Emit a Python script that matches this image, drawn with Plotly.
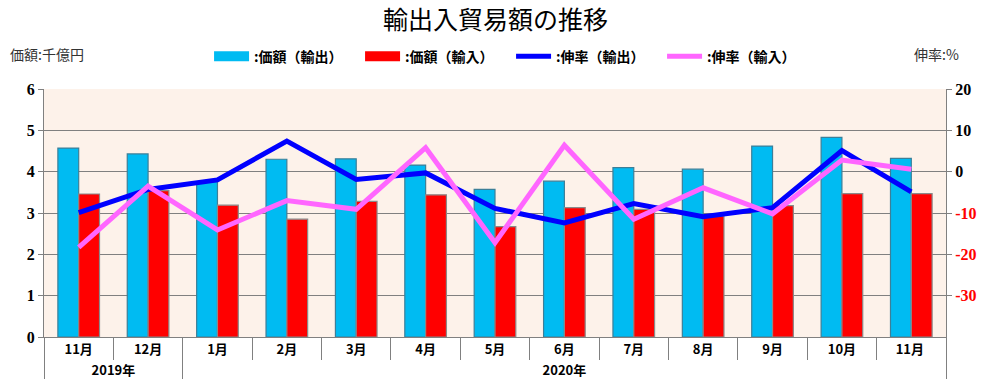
import plotly.graph_objects as go

years = ["2019年", "2019年"] + ["2020年"] * 11
months = ["11月", "12月", "1月", "2月", "3月", "4月", "5月", "6月", "7月", "8月", "9月", "10月", "11月 "]
export_value = [4.57, 4.43, 3.76, 4.30, 4.31, 4.16, 3.57, 3.77, 4.10, 4.06, 4.62, 4.83, 4.32]
import_value = [3.46, 3.54, 3.19, 2.85, 3.28, 3.44, 2.67, 3.13, 3.09, 2.93, 3.18, 3.47, 3.47]
export_growth = [-9.9, -4.3, -2.0, 7.4, -1.9, -0.3, -8.9, -12.4, -7.7, -10.9, -8.7, 5.1, -4.9]
import_growth = [-18.3, -3.5, -14.1, -7.0, -9.1, 5.8, -17.2, 6.4, -11.5, -3.9, -10.2, 2.8, 0.6]
left_ticks = [0, 1, 2, 3, 4, 5, 6]
right_ticks = [-30, -20, -10, 0, 10, 20]

cjk = "Noto Sans CJK JP"
x = [years, months]
EXP_C, IMP_C = "#00BBF2", "#FF0000"

fig = go.Figure()
fig.add_trace(go.Bar(x=x, y=export_value, name=":価額（輸出）", legendgroup="e", showlegend=False,
                     marker=dict(color=EXP_C, line=dict(color="#3C7F98", width=1.2))))
fig.add_trace(go.Bar(x=x, y=import_value, name=":価額（輸入）", legendgroup="i", showlegend=False,
                     marker=dict(color=IMP_C, line=dict(color="#8A8A8A", width=1.2))))
# legend keys drawn as wide blocks like the reference
fig.add_trace(go.Scatter(x=[None], y=[None], name=":価額（輸出）", legendgroup="e", mode="lines",
                         line=dict(color=EXP_C, width=10)))
fig.add_trace(go.Scatter(x=[None], y=[None], name=":価額（輸入）", legendgroup="i", mode="lines",
                         line=dict(color=IMP_C, width=10)))
fig.add_trace(go.Scatter(x=x, y=export_growth, name=":伸率（輸出）", mode="lines",
                         line=dict(color="#0000FF", width=5), yaxis="y2"))
fig.add_trace(go.Scatter(x=x, y=import_growth, name=":伸率（輸入）", mode="lines",
                         line=dict(color="#FF66FF", width=5), yaxis="y2"))

def rt(v):
    return f"<span style='color:#FF0000'>{v}</span>" if v < 0 else str(v)

fig.update_layout(
    width=997, height=390,
    margin=dict(l=44, r=51, t=89, b=53),
    paper_bgcolor="white",
    plot_bgcolor="#FDF2EA",
    barmode="group",
    bargap=0.4,
    bargroupgap=0.0,
    font=dict(family=cjk, color="black"),
    title=dict(text="輸出入貿易額の推移", x=0.497, xanchor="center", y=0.948, yanchor="middle",
               font=dict(family=cjk, size=25, color="black")),
    legend=dict(orientation="h", x=0.183, xanchor="left", y=1.13, yanchor="middle",
                font=dict(family=cjk, size=14, color="black", weight="bold"),
                entrywidth=101, entrywidthmode="pixels",
                itemwidth=35, tracegroupgap=0, bgcolor="rgba(0,0,0,0)"),
    xaxis=dict(type="multicategory", showline=True, linecolor="#808080", linewidth=1,
               ticks="outside", ticklen=22, tickcolor="#808080",
               showdividers=True, dividercolor="#808080", dividerwidth=1,
               tickfont=dict(family=cjk, size=13, color="black", weight="bold"),
               showgrid=False, automargin=False, mirror=False),
    yaxis=dict(range=[0, 6], tickvals=left_ticks, showgrid=True, gridcolor="#808080", gridwidth=1,
               showline=True, linecolor="#808080", linewidth=1, ticks="outside", ticklen=5,
               tickcolor="#808080", zeroline=False,
               tickfont=dict(family="Liberation Serif", size=16, color="black", weight="bold"),
               automargin=False),
    yaxis2=dict(range=[-40, 20], overlaying="y", side="right", tickvals=right_ticks,
                ticktext=[rt(v) for v in right_ticks], showgrid=False, zeroline=False,
                showline=True, linecolor="#808080", linewidth=1, ticks="outside", ticklen=5,
                tickcolor="#808080",
                tickfont=dict(family="Liberation Serif", size=16, color="black", weight="bold"),
                automargin=False),
    annotations=[
        dict(text="価額:千億円", xref="paper", yref="paper", x=-0.04, y=1.14, xanchor="left",
             yanchor="middle", showarrow=False, font=dict(family=cjk, size=14, color="#333333")),
        dict(text="伸率:%", xref="paper", yref="paper", x=0.962, y=1.14, xanchor="left",
             yanchor="middle", showarrow=False, font=dict(family=cjk, size=14, color="#333333")),
    ],
)

fig.write_html("out.html", config={"displayModeBar": False},
               post_script="document.body.style.margin='0';")
